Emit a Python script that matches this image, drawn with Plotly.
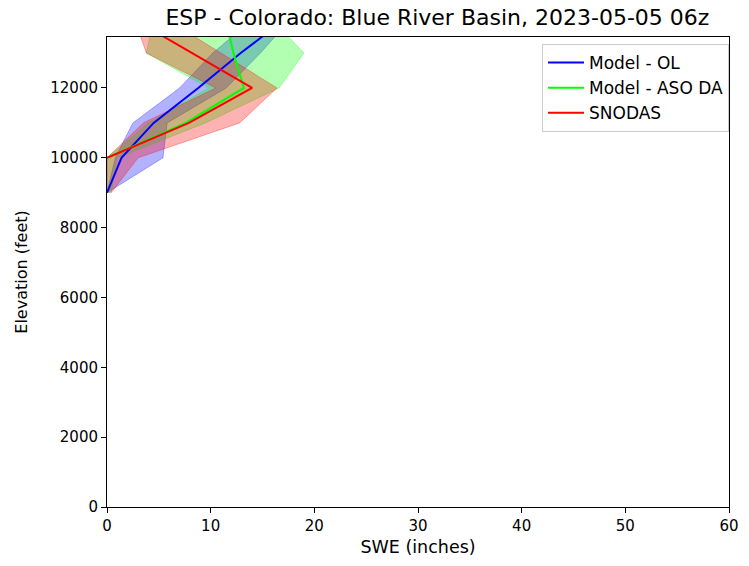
import plotly.graph_objects as go

# Elevation bands (feet)
elevation = [9000, 10000, 11000, 12000, 13000, 14000]

# Model - OL: median SWE and ensemble spread (inches)
ol_swe = [0.0, 1.4, 4.5, 8.8, 12.9, 17.3]
ol_low = [0.0, 0.8, 2.5, 7.0, 10.2, 14.2]
ol_high = [0.0, 5.4, 5.8, 11.5, 14.8, 17.8]

# Model - ASO DA
aso_swe = [None, 0.0, 7.6, 13.2, 12.2, 11.4]
aso_low = [0.0, 0.0, 4.0, 9.8, 3.8, 4.5]
aso_high = [0.4, 1.0, 9.5, 16.6, 19.0, 15.8]

# SNODAS
sno_swe = [None, 0.0, 7.9, 14.0, 8.2, 2.4]
sno_low = [0.0, 0.0, 3.5, 10.5, 3.8, 2.6]
sno_high = [0.4, 3.0, 12.8, 16.4, 11.0, 5.6]

series = [
    ("Model - OL", ol_swe, ol_low, ol_high, (0, 0, 255)),
    ("Model - ASO DA", aso_swe, aso_low, aso_high, (0, 255, 0)),
    ("SNODAS", sno_swe, sno_low, sno_high, (255, 0, 0)),
]

fig = go.Figure()

# shaded spread bands
for name, swe, lo, hi, (r, g, b) in series:
    fig.add_trace(go.Scatter(
        x=lo + hi[::-1],
        y=elevation + elevation[::-1],
        mode="lines",
        fill="toself",
        fillcolor=f"rgba({r},{g},{b},0.3)",
        line=dict(color=f"rgba({r},{g},{b},0.3)", width=1),
        hoverinfo="skip",
        showlegend=False,
    ))

# central lines
for name, swe, lo, hi, (r, g, b) in series:
    fig.add_trace(go.Scatter(
        x=swe,
        y=elevation,
        mode="lines",
        name=name,
        line=dict(color=f"rgb({r},{g},{b})", width=2),
        connectgaps=False,
    ))

axis_common = dict(
    showline=True,
    linecolor="black",
    linewidth=1,
    mirror=True,
    ticks="outside",
    ticklen=5,
    tickwidth=1,
    tickcolor="black",
    showgrid=False,
    zeroline=False,
    tickfont=dict(family="DejaVu Sans", size=15, color="black"),
)

fig.update_layout(
    width=749,
    height=566,
    margin=dict(l=107, r=10, t=37, b=59),
    paper_bgcolor="white",
    plot_bgcolor="white",
    font=dict(family="DejaVu Sans", color="black"),
    title=dict(
        text="ESP - Colorado: Blue River Basin, 2023-05-05 06z",
        x=0.584, xanchor="center",
        y=0.97, yanchor="middle",
        font=dict(family="DejaVu Sans", size=22, color="black"),
    ),
    xaxis=dict(
        range=[0, 60],
        tickvals=[0, 10, 20, 30, 40, 50, 60],
        title=dict(text="SWE (inches)", font=dict(size=17.5), standoff=6),
        **axis_common,
    ),
    yaxis=dict(
        range=[0, 13460],
        tickvals=[0, 2000, 4000, 6000, 8000, 10000, 12000],
        tickformat="d",
        title=dict(text="Elevation (feet)", font=dict(size=16), standoff=18),
        **axis_common,
    ),
    legend=dict(
        x=1.0, xanchor="right",
        y=0.985, yanchor="top",
        bordercolor="#cccccc",
        borderwidth=1,
        bgcolor="rgba(255,255,255,0.8)",
        font=dict(family="DejaVu Sans", size=17, color="black"),
        itemwidth=36,
    ),
)

fig.write_html("out.html")
